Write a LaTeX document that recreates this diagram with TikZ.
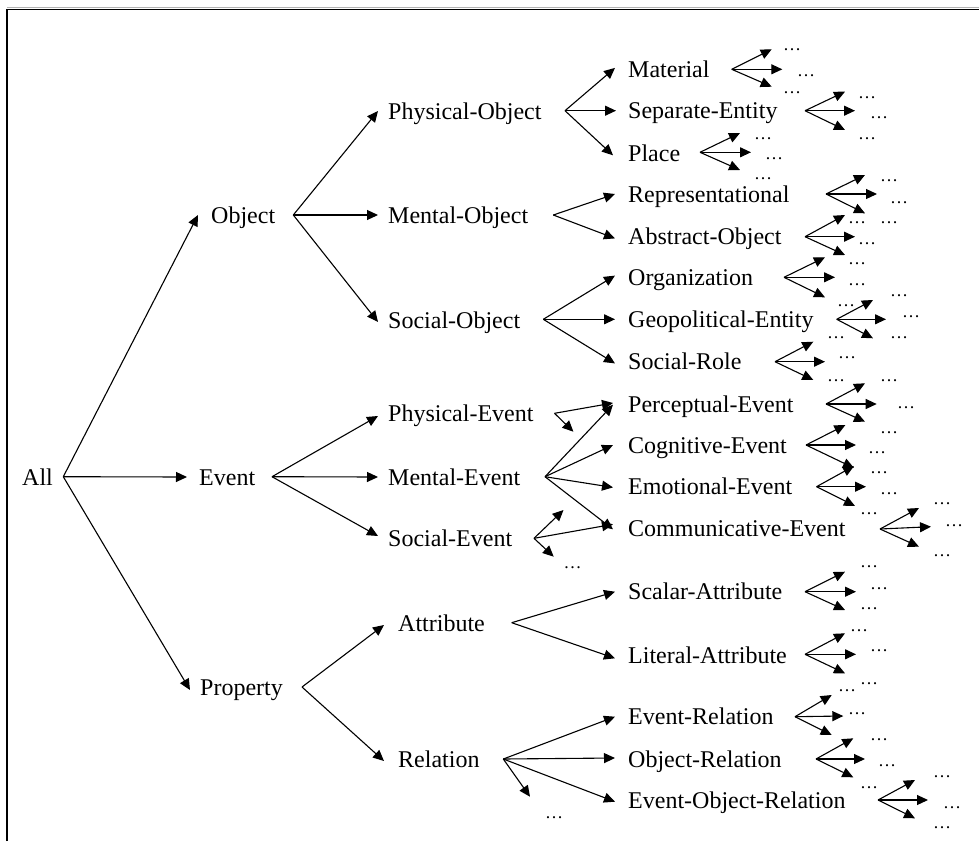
\documentclass[tikz,border=0pt]{standalone}
\usepackage{fontspec}
\setmainfont{Liberation Serif}
\usetikzlibrary{arrows.meta,calc}
\begin{document}
\begin{tikzpicture}[x=1pt,y=-1pt,
  lbl/.style={anchor=west, inner sep=0pt, text height=16pt, text depth=0pt,
              font=\fontsize{24}{26}\selectfont},
  more/.style={anchor=base west, inner sep=0pt, font=\fontsize{18}{18}\selectfont},
  arr/.style={line width=1.1pt, -{Triangle[length=11pt,width=10pt]}}]
\useasboundingbox (0,0) rectangle (979,841);
% frame
\draw[gray!60, line width=1pt] (7,7.8) -- (979,7.8);
\draw[line width=1.6pt] (7,841) -- (7,9.3) -- (979,9.3);

% ---- inner nodes ----
\node[lbl] (all)  at (22,477)  {All};
\node[lbl] (obj)  at (211,215) {Object};
\node[lbl] (evt)  at (199,477) {Event};
\node[lbl] (prop) at (200,687) {Property};
\node[lbl] (pobj) at (388,111) {Physical-Object};
\node[lbl] (mobj) at (388,215) {Mental-Object};
\node[lbl] (sobj) at (388,320) {Social-Object};
\node[lbl] (pevt) at (388,413) {Physical-Event};
\node[lbl] (mevt) at (388,477) {Mental-Event};
\node[lbl] (sevt) at (388,538) {Social-Event};
\node[lbl] (attr) at (398,623) {Attribute};
\node[lbl] (rel)  at (398,759) {Relation};

% ---- leaf nodes ----
\node[lbl] (mat) at (628,69.3)  {Material};
\node[lbl] (sep) at (628,110.7) {Separate-Entity};
\node[lbl] (plc) at (628,153)   {Place};
\node[lbl] (rep) at (628,194)   {Representational};
\node[lbl] (abs) at (628,236.7) {Abstract-Object};
\node[lbl] (org) at (628,277.3) {Organization};
\node[lbl] (geo) at (628,319.3) {Geopolitical-Entity};
\node[lbl] (rol) at (628,361.7) {Social-Role};
\node[lbl] (per) at (628,404)   {Perceptual-Event};
\node[lbl] (cog) at (628,445)   {Cognitive-Event};
\node[lbl] (emo) at (628,486.7) {Emotional-Event};
\node[lbl] (com) at (628,528)   {Communicative-Event};
\node[lbl] (sca) at (628,591.7) {Scalar-Attribute};
\node[lbl] (lit) at (628,655)   {Literal-Attribute};
\node[lbl] (evr) at (628,716.7) {Event-Relation};
\node[lbl] (obr) at (628,759)   {Object-Relation};
\node[lbl] (eor) at (628,800)   {Event-Object-Relation};

% ---- branching points ----
\coordinate (all-o)  at (63.3,476.7);
\coordinate (obj-o)  at (293.3,215);
\coordinate (evt-o)  at (272,476.7);
\coordinate (prop-o) at (302,687);
\coordinate (pobj-o) at (565,110.7);
\coordinate (mobj-o) at (553.3,215);
\coordinate (sobj-o) at (543.3,319.3);
\coordinate (pevt-o) at (554.5,413.3);
\coordinate (mevt-o) at (545,476.7);
\coordinate (sevt-o) at (534,538.3);
\coordinate (attr-o) at (511.7,622.7);
\coordinate (rel-o)  at (503.3,759);

% ---- tree edges ----
\draw[arr] (all-o) -- ([xshift=-13pt]obj.west);
\draw[arr] (all-o) -- ([xshift=-12pt]evt.west);
\draw[arr] (all-o) -- ([xshift=-10pt,yshift=-3pt]prop.west);

\draw[arr] (obj-o) -- ([xshift=-10pt]pobj.west);
\draw[arr] (obj-o) -- ([xshift=-10pt]mobj.west);
\draw[arr] (obj-o) -- ([xshift=-10pt,yshift=-2pt]sobj.west);

\draw[arr] (evt-o) -- ([xshift=-10pt,yshift=-3pt]pevt.west);
\draw[arr] (evt-o) -- ([xshift=-10pt]mevt.west);
\draw[arr] (evt-o) -- ([xshift=-10pt,yshift=2pt]sevt.west);

\draw[arr] (prop-o) -- ([xshift=-14pt,yshift=-2pt]attr.west);
\draw[arr] (prop-o) -- ([xshift=-14pt,yshift=-2pt]rel.west);

\draw[arr] (pobj-o) -- ([xshift=-13pt,yshift=1.4pt]mat.west);
\draw[arr] (pobj-o) -- ([xshift=-12pt]sep.west);
\draw[arr] (pobj-o) -- ([xshift=-15pt,yshift=-2.3pt]plc.west);

\draw[arr] (mobj-o) -- ([xshift=-13pt]rep.west);
\draw[arr] (mobj-o) -- ([xshift=-13pt,yshift=-1.7pt]abs.west);

\draw[arr] (sobj-o) -- ([xshift=-13pt,yshift=1.7pt]org.west);
\draw[arr] (sobj-o) -- ([xshift=-13pt]geo.west);
\draw[arr] (sobj-o) -- ([xshift=-13pt,yshift=-1.7pt]rol.west);

\coordinate (pevt-x) at (573.4,431.7);
\draw[arr] (pevt-o) -- ([xshift=-15pt,yshift=1pt]per.west);
\draw[arr] (pevt-o) -- (pevt-x);

\draw[arr] (mevt-o) -- ([xshift=-15pt,yshift=-0.7pt]per.west);
\draw[arr] (mevt-o) -- ([xshift=-15pt]cog.west);
\draw[arr] (mevt-o) -- ([xshift=-15pt,yshift=-0.7pt]emo.west);
\draw[arr] (mevt-o) -- ([xshift=-15pt,yshift=-1.3pt]com.west);

\coordinate (sevt-u) at (563.5,510);
\coordinate (sevt-d) at (553.7,556.7);
\draw[arr] (sevt-o) -- (sevt-u);
\draw[arr] (sevt-o) -- ([xshift=-15pt,yshift=3.7pt]com.west);
\draw[arr] (sevt-o) -- (sevt-d);
\node[more] (sevt-m) at (563.5,568) {…};

\draw[arr] (attr-o) -- ([xshift=-13pt]sca.west);
\draw[arr] (attr-o) -- ([xshift=-13pt,yshift=-3.3pt]lit.west);

\coordinate (rel-d) at (530,796.7);
\draw[arr] (rel-o) -- ([xshift=-13pt]evr.west);
\draw[arr] (rel-o) -- ([xshift=-13pt,yshift=1pt]obr.west);
\draw[arr] (rel-o) -- ([xshift=-13pt,yshift=-1.7pt]eor.west);
\draw[arr] (rel-o) -- (rel-d);
\node[more] (rel-m) at (545,818) {…};

% ---- open-ended fans after each leaf ----
\foreach \n/\ox/\oy/\ux/\uy/\mx/\my/\dx/\dy in {
  mat/731.7/69.3/771.7/49.3/782.3/69.3/771.7/86.7,
  sep/805/110.7/845/91.7/855/110.7/845/130,
  plc/700/152.3/740/133/751/152.3/740/170,
  rep/826/194/865/175/877/194/865/213.3,
  abs/805/236.7/845/215/855/236.7/845/255,
  org/784/277.3/825/257.3/835/277.3/825/297.3,
  geo/836.7/319.3/873/300/886/319.3/873/338.3,
  rol/775/361.7/813.3/341.7/825/361.7/813.3/380,
  per/826/404/865/383.3/876.7/404/865/421.7,
  cog/806/445/845.4/425/856/445/854/468,
  emo/816.5/486.7/854/466/866/486.7/855/506,
  com/880/529/919/508/931/526.7/919/546.7,
  sca/805/591.7/845/571.7/856/591.7/845/610,
  lit/805/654.3/845/633.3/856/654.3/845/673.3,
  evr/795/716.7/831.7/695/843.3/716/831.7/735,
  obr/816/759/853.3/738.3/865/759/853.3/777.3,
  eor/878/800/915/780/928/800/915/818.3}{
  \coordinate (\n-o) at (\ox,\oy);
  \coordinate (\n-u) at (\ux,\uy);
  \coordinate (\n-c) at (\mx,\my);
  \coordinate (\n-d) at (\dx,\dy);
  \draw[arr] (\n-o) -- (\n-u);
  \draw[arr] (\n-o) -- (\n-c);
  \draw[arr] (\n-o) -- (\n-d);
}

% ---- continuation marks ----
\foreach \n/\x/\y in {
  mat1/783/49, mat2/797/75, mat3/783/92,
  sep1/858/96.7, sep2/870/117, sep3/858/138,
  plc1/754/138, plc2/765/158, plc3/754/178,
  rep1/880/180, rep2/890/201.7, rep3/880/221.7,
  abs1/848/221.7, abs2/858/242.7, abs3/848/263,
  org2/848/284, org3/837/305,
  geo1/890/295, geo2/902/316, geo3/890/336.7,
  rol1/827/336.7, rol2/838/357.3, rol3/827/380,
  per1/880/380, per2/897/406.7, per3/880/431.7,
  cog2/868/451.7, cog3/870/471.7,
  emo2/880/493, emo3/860/513,
  com1/933/503, com2/945/525, com3/933/555,
  sca1/860/566, sca2/870/588.3, sca3/860/608.3,
  lit1/850/630, lit2/870/650, lit3/860/682.7,
  evr1/838/690, evr2/848/712.7, evr3/870/739.3,
  obr2/878/765, obr3/860/786.7,
  eor1/933/776, eor2/943/807.3, eor3/933/826.7}{
  \node[more] (\n) at (\x,\y+1.5) {…};
}
\end{tikzpicture}
\end{document}
